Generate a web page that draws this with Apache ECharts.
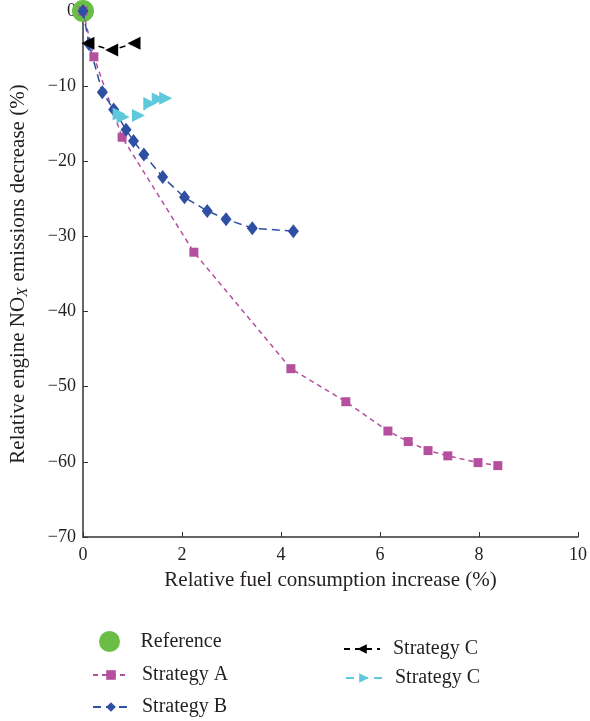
<!DOCTYPE html>
<html>
<head>
<meta charset="utf-8">
<script src="https://cdn.jsdelivr.net/npm/echarts@6/dist/echarts.min.js"></script>
<style>
  html, body { margin: 0; padding: 0; background: #fff; }
  #main { width: 590px; height: 721px; }
</style>
</head>
<body>
<div id="main"></div>
<script>
// values
var refX = [0];
var refY = [0];
var aX = [0, 0.22, 0.79, 2.24, 4.2, 5.31, 6.16, 6.57, 6.97, 7.37, 7.98, 8.38];
var aY = [0, -6.1, -16.8, -32.1, -47.6, -52.0, -55.9, -57.3, -58.5, -59.2, -60.1, -60.5];
var bX = [0, 0.12, 0.39, 0.62, 0.87, 1.02, 1.23, 1.61, 2.05, 2.51, 2.89, 3.42, 4.25];
var bY = [0, -4.4, -10.8, -13.1, -15.8, -17.3, -19.1, -22.1, -24.8, -26.6, -27.7, -28.9, -29.3];
var cBlackX = [0.1, 0.58, 1.03];
var cBlackY = [-4.3, -5.2, -4.3];
var cCyanX = [0.73, 0.81, 1.12, 1.35, 1.52, 1.67];
var cCyanY = [-13.7, -14.1, -13.9, -12.3, -11.7, -11.6];
var xTicks = [0, 10, 2];   // min, max, step
var yTicks = [-70, 0, 10];

function zip(xs, ys) {
  return xs.map(function (x, i) { return [x, ys[i]]; });
}

var font = 'Liberation Serif';
var ink = '#231f20';

// one legend per entry so nothing wraps
function legendAt(name, left, top, iconH) {
  return {
    left: left,
    top: top,
    padding: 0,
    itemWidth: 36,
    itemHeight: iconH,
    textStyle: { fontFamily: font, fontSize: 20, color: ink, padding: [0, 0, 0, 8] },
    data: [name]
  };
}

var myChart = echarts.init(document.getElementById('main'));
window.addEventListener('resize', function () {
  myChart.resize();
});

myChart.setOption({
  backgroundColor: '#fff',
  animation: false,
  textStyle: { fontFamily: font, color: ink },
  grid: { left: 83, right: 12, top: 11, bottom: 184, containLabel: false },
  legend: [
    legendAt('Reference', 99, 631, 21),
    legendAt('Strategy A', 92, 665, 12),
    legendAt('Strategy B', 92, 697, 12),
    legendAt('Strategy C', 343, 639, 12),
    legendAt('Strategy C ', 345, 668, 12)
  ],
  xAxis: {
    type: 'value',
    min: xTicks[0],
    max: xTicks[1],
    interval: xTicks[2],
    name: 'Relative fuel consumption increase (%)',
    nameLocation: 'middle',
    nameGap: 33,
    nameTextStyle: { fontFamily: font, fontSize: 21, color: ink },
    axisLine: { onZero: false, lineStyle: { color: '#333', width: 1.5 } },
    axisTick: { inside: true, length: 5, lineStyle: { color: '#333' } },
    axisLabel: { fontFamily: font, fontSize: 18, color: ink, margin: 9 },
    splitLine: { show: false }
  },
  yAxis: {
    type: 'value',
    min: yTicks[0],
    max: yTicks[1],
    interval: yTicks[2],
    name: 'Relative engine NO{sub|X} emissions decrease (%)',
    nameLocation: 'middle',
    nameGap: 52,
    nameTextStyle: {
      fontFamily: font, fontSize: 21, color: ink,
      rich: {
        sub: { fontFamily: font, fontSize: 15, fontStyle: 'italic', color: ink, padding: [10, 1, 0, 0] }
      }
    },
    axisLine: { lineStyle: { color: '#333', width: 1.5 } },
    axisTick: { inside: true, length: 5, lineStyle: { color: '#333' } },
    axisLabel: {
      fontFamily: font, fontSize: 18, color: ink, margin: 7,
      formatter: function (v) { return String(v).replace('-', '\u2212'); }
    },
    splitLine: { show: false }
  },
  series: [
    {
      name: 'Reference',
      type: 'scatter',
      data: zip(refX, refY),
      symbol: 'circle',
      symbolSize: 22,
      itemStyle: { color: '#6abd45', opacity: 1 }
    },
    {
      name: 'Strategy A',
      type: 'line',
      data: zip(aX, aY),
      symbol: 'rect',
      symbolSize: 9,
      showAllSymbol: true,
      itemStyle: { color: '#b5509f' },
      lineStyle: { color: '#b5509f', width: 1.5, type: [5, 4] }
    },
    {
      name: 'Strategy B',
      type: 'line',
      data: zip(bX, bY),
      symbol: 'diamond',
      symbolSize: [11, 14],
      showAllSymbol: true,
      itemStyle: { color: '#2f4fa3' },
      lineStyle: { color: '#2f4fa3', width: 1.5, type: [8, 5] }
    },
    {
      name: 'Strategy C',
      type: 'line',
      data: zip(cBlackX, cBlackY),
      symbol: 'triangle',
      symbolRotate: 90,
      symbolSize: 13,
      showAllSymbol: true,
      itemStyle: { color: '#000' },
      lineStyle: { color: '#000', width: 1.5, type: [6, 5] }
    },
    {
      name: 'Strategy C ',
      type: 'line',
      data: zip(cCyanX, cCyanY),
      symbol: 'triangle',
      symbolRotate: -90,
      symbolSize: 13,
      showAllSymbol: true,
      itemStyle: { color: '#5ec9dc' },
      lineStyle: { color: '#5ec9dc', width: 1.5, type: [8, 6] }
    }
  ]
});
</script>
</body>
</html>
